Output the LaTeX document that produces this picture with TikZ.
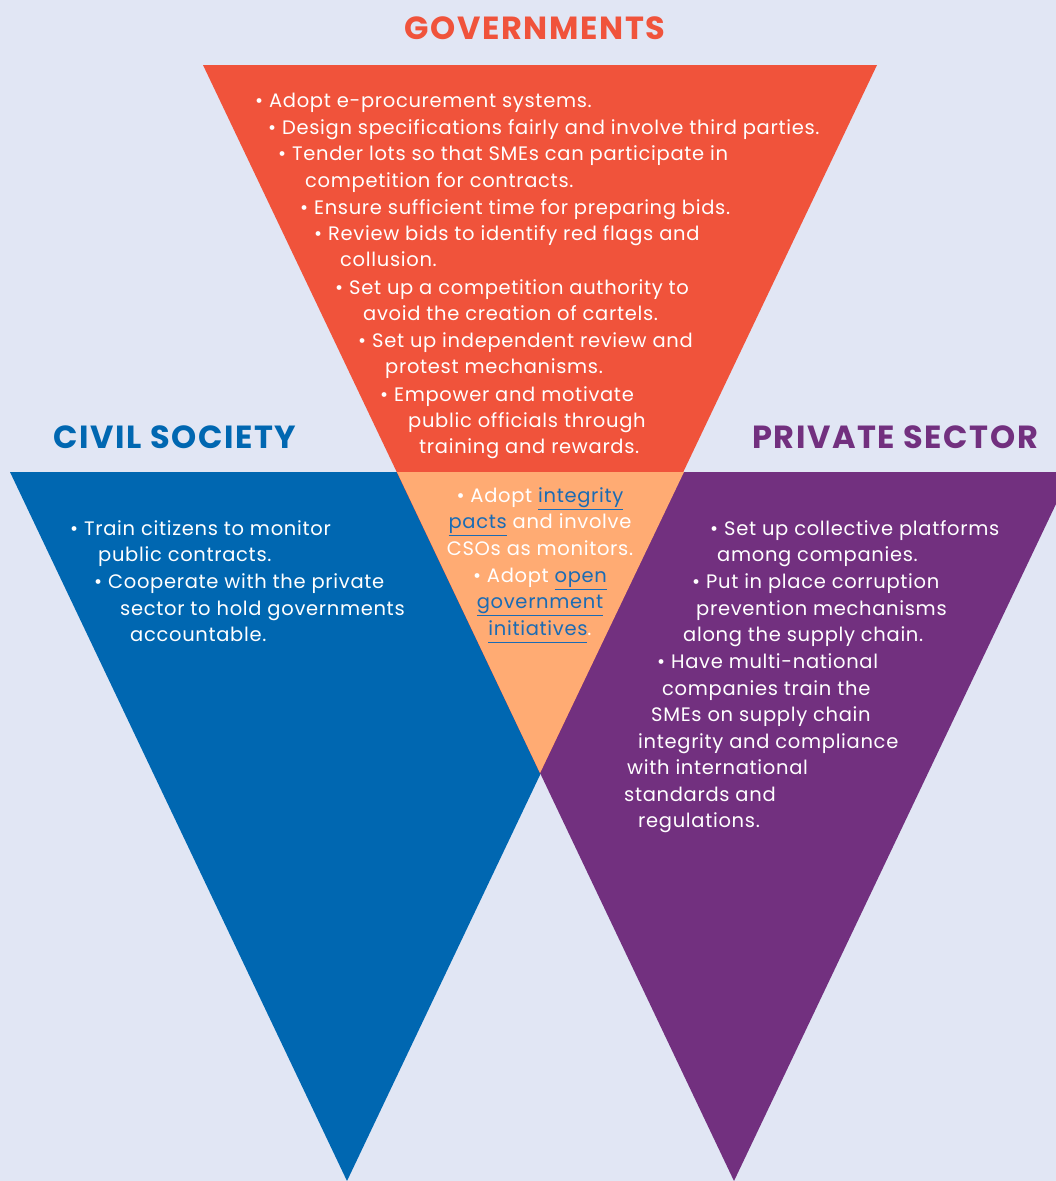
\documentclass[tikz,border=0pt]{standalone}
\usepackage{fontspec}
\setmainfont{Poppins}[LetterSpace=3.5]
\definecolor{bg}{HTML}{E1E6F4}
\definecolor{govorange}{HTML}{F0533B}
\definecolor{civblue}{HTML}{0067B1}
\definecolor{privpurple}{HTML}{72307F}
\definecolor{overlap}{HTML}{FFAB73}
\definecolor{linkblue}{HTML}{1A6BB4}
\newcommand{\lnk}[1]{{\color{linkblue}\underline{#1\vphantom{gp}}}}

\begin{document}
\begin{tikzpicture}[x=1pt,y=-1pt,
  item/.style={text=white,anchor=base west,inner sep=0pt,font=\fontsize{19.5}{26.7}\selectfont},
  head/.style={inner sep=0pt,font=\fontsize{32}{36}\selectfont\addfontfeatures{LetterSpace=5}\bfseries}]
\fill[bg] (0,0) rectangle (1056,1181);
\useasboundingbox (0,0) rectangle (1056,1181);
% the three triangles
\fill[civblue] (10,472) -- (684,472) -- (347,1181) -- cycle;
\fill[privpurple] (397,472) -- (1056,472) -- (1056,504) -- (734,1181) -- cycle;
\fill[govorange] (203,65) -- (877,65) -- (540,773) -- cycle;
\fill[overlap] (397,472) -- (684,472) -- (540,773) -- cycle;
% headings
\node[head,text=govorange] (gov) at (535,28) {GOVERNMENTS};
\node[head,text=civblue] (civ) at (175,437) {CIVIL SOCIETY};
\node[head,text=privpurple] (priv) at (895,437) {PRIVATE SECTOR};
% governments
\foreach \x/\y/\t [count=\i] in {255/100/• Adopt e-procurement systems.,
  268/127/• Design specifications fairly and involve third parties.,
  278/153/• Tender lots so that SMEs can participate in,
  305/180/competition for contracts.,
  300/207/• Ensure sufficient time for preparing bids.,
  314/233/• Review bids to identify red flags and,
  340/259/collusion.,
  335/287/• Set up a competition authority to,
  363/313/avoid the creation of cartels.,
  358/340/• Set up independent review and,
  385/366/protest mechanisms.,
  380/394/• Empower and motivate,
  408/420/public officials through,
  419/446/training and rewards.}
  \node[item] (g\i) at (\x,\y+7) {\t};
% civil society
\foreach \x/\y/\t [count=\i] in {70/528/• Train citizens to monitor,
  98/554/public contracts.,
  94/581/• Cooperate with the private,
  120/608/sector to hold governments,
  130/634/accountable.}
  \node[item] (c\i) at (\x,\y+7) {\t};
% private sector
\foreach \x/\y/\t [count=\i] in {710/528/• Set up collective platforms,
  717/554/among companies.,
  692/581/• Put in place corruption,
  696/608/prevention mechanisms,
  683/634/along the supply chain.,
  657/661/• Have multi-national,
  662/688/companies train the,
  651/714/SMEs on supply chain,
  638/741/integrity and compliance,
  627/767/with international,
  624/794/standards and,
  638/820/regulations.}
  \node[item] (p\i) at (\x,\y+7) {\t};
% shared part
\node[item,anchor=center,align=center] (mid) at (540,565)
  {• Adopt \lnk{integrity}\\\lnk{pacts} and involve\\CSOs as monitors.\\
   • Adopt \lnk{open}\\\lnk{government}\\\lnk{initiatives}.};
\end{tikzpicture}
\end{document}
